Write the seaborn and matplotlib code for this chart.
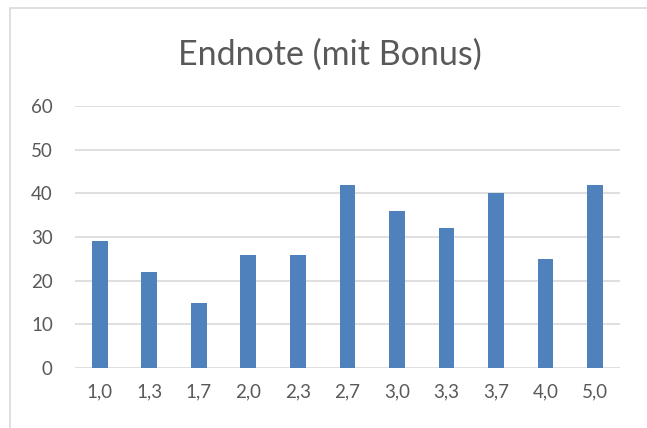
import matplotlib
matplotlib.use('Agg')
import matplotlib.pyplot as plt
import seaborn as sns
from matplotlib.patches import Rectangle

noten = ['1,0', '1,3', '1,7', '2,0', '2,3', '2,7', '3,0', '3,3', '3,7', '4,0', '5,0']
anzahl = [29, 22, 15, 26, 26, 42, 36, 32, 40, 25, 42]
y_ticks = [0, 10, 20, 30, 40, 50, 60]

sns.set_style('white')
plt.rcParams['font.family'] = ['Lato', 'DejaVu Sans']

fig = plt.figure(figsize=(6.47, 4.28), dpi=100)
ax = fig.add_axes([0.116, 0.140, 0.842, 0.612])

sns.barplot(x=noten, y=anzahl, color='#4F81BD', saturation=1, width=0.32,
            linewidth=0, ax=ax)

ax.set_ylim(0, 60)
ax.set_yticks(y_ticks)
ax.set_xlim(-0.5, len(noten) - 0.5)
ax.yaxis.grid(True, color='#D9D9D9', linewidth=1.2)
ax.set_axisbelow(True)
for s in ax.spines.values():
    s.set_visible(False)
ax.tick_params(axis='both', length=0, labelsize=13.5, colors='#595959', pad=11)
ax.tick_params(axis='y', pad=16)
ax.set_xlabel('')
ax.set_ylabel('')

fig.text(0.51, 0.872, 'Endnote (mit Bonus)', ha='center', va='center',
         fontsize=24.5, color='#595959')

# chart frame (Excel look)
fig.patches.append(Rectangle((10 / 647, -0.1), 1.2, 1 - 8 / 428 + 0.1,
                             transform=fig.transFigure, fill=False,
                             edgecolor='#D9D9D9', linewidth=1.2))

fig.savefig('out.png', dpi=100)
